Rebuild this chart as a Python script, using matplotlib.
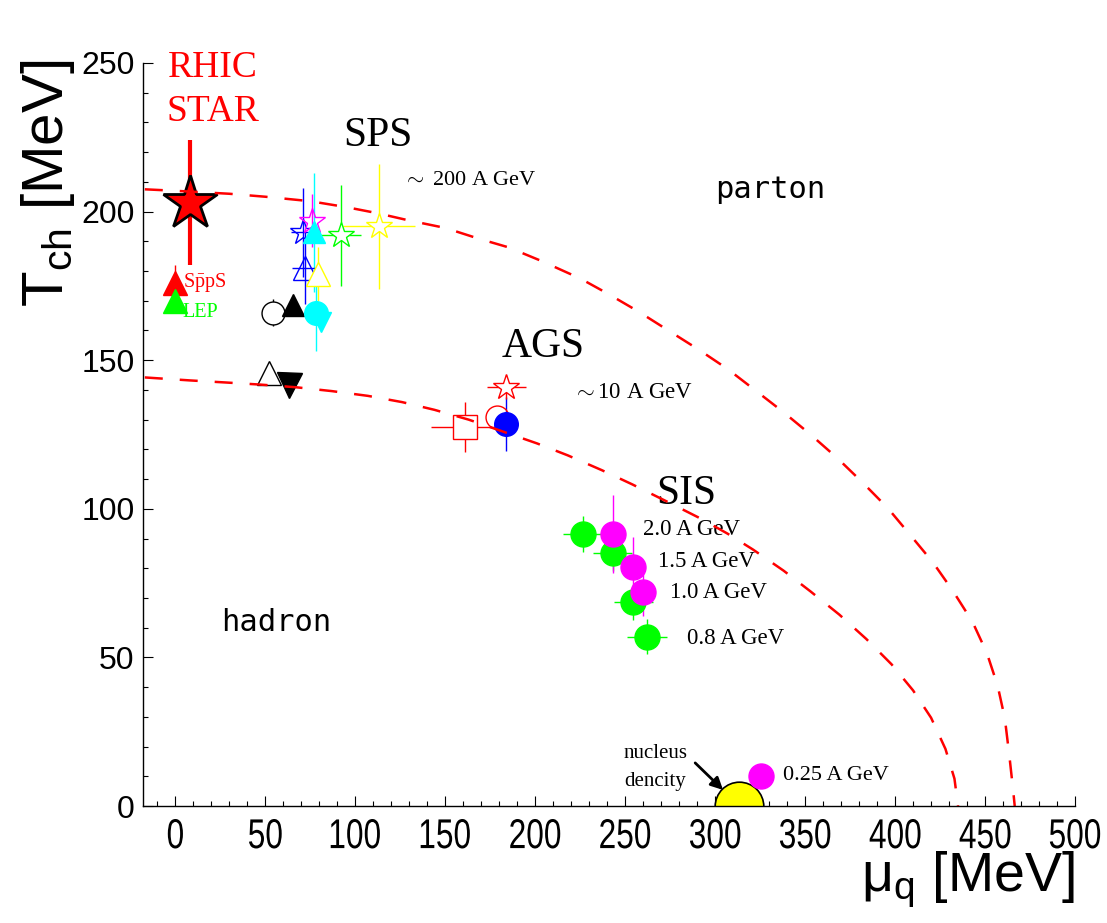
import matplotlib
matplotlib.use("Agg")
import matplotlib.pyplot as plt
from matplotlib.ticker import MultipleLocator
from matplotlib.textpath import TextPath
from matplotlib.patches import PathPatch
from matplotlib.font_manager import FontProperties
import matplotlib.transforms as mtransforms

plt.rcParams['mathtext.fontset'] = 'custom'
plt.rcParams['mathtext.rm'] = 'Liberation Serif'
plt.rcParams['mathtext.sf'] = 'Liberation Sans'
plt.rcParams['mathtext.it'] = 'Liberation Serif:italic'

# ---------------- data ----------------
# dashed boundary curves (mu_q [MeV], T [MeV])
upper_mu = [-17, 0, 30, 50, 75, 95, 112, 130, 150, 168, 185, 203, 225, 240, 257, 274,
            291, 307, 322, 338, 353, 368, 382, 396, 408, 421, 432, 443, 451, 457, 461,
            463.5, 465.5, 466.5]
upper_T = [207.5, 207, 206, 205, 203.5, 201.5, 199.5, 197, 194.5, 191, 188, 183.5, 177.5,
           172.5, 166.5, 160, 153.5, 147, 140, 132.5, 125, 117, 108.8, 100.2, 91.5, 82, 72.5,
           62, 51.5, 40.5, 29.5, 17, 6, 0]
lower_mu = [-17, 8, 28, 47, 67, 87, 107, 126, 144, 163, 182, 201, 218, 237, 254, 273, 292,
            307, 321, 338, 353, 369, 384, 398, 410, 420, 428, 433, 435]
lower_T = [144.2, 143.2, 142.5, 141.8, 140.9, 139.6, 138.0, 135.9, 133.3, 130.0, 126.0,
           122.0, 118.0, 113.0, 108.2, 102.5, 96.7, 91.6, 86.3, 79.2, 72.2, 64.4, 56.2,
           47.7, 38.9, 29.7, 19.2, 9.2, 0]

# RHIC STAR
rhic_mu, rhic_T, rhic_T_err = 8, 203, 21
# SppS and LEP
spps_mu, spps_T, spps_T_err = 0, 176, 6
lep_mu, lep_T = 0, 170

# SPS points
sps_mu = [71, 76, 77, 92, 113, 72, 79.5, 54, 65.5, 78, 81]
sps_T = [193, 197, 193, 192, 195, 181, 179, 166, 168.5, 166, 163]
sps_mu_err = [7, 0, 0, 11, 20, 7, 0, 0, 0, 0, 0]
sps_T_err = [15, 9, 20, 17, 21, 12, 9, 4.5, 0, 13, 0]
# low-T pair near 140 MeV
low_mu = [52, 63]
low_T = [145.7, 141.6]

# AGS points
ags_mu = [161, 179, 184, 184]
ags_T = [127.5, 131, 128.5, 141]
ags_mu_err = [19, 0, 0, 11]
ags_T_err = [8.5, 0, 9, 4]

# SIS points
sis_green_mu = [226.5, 243, 254.6, 262]
sis_green_T = [91.5, 85, 68.6, 57]
sis_green_mu_err = [11, 11, 11, 11]
sis_green_T_err = [6, 6, 6, 6]
sis_mag_mu = [243, 254.4, 260, 325.5]
sis_mag_T = [91.5, 80.4, 72, 10.1]
sis_mag_T_err = [13, 10, 8, 0]
sis_labels = ["2.0 A GeV", "1.5 A GeV", "1.0 A GeV", "0.8 A GeV"]
sis_label_mu = [260, 268.3, 275, 284.4]
sis_label_T = [92.9, 82.1, 71.7, 56.5]

# nucleus density
nuc_mu, nuc_T = 313, 0

x_ticks = [0, 50, 100, 150, 200, 250, 300, 350, 400, 450, 500]
y_ticks = [0, 50, 100, 150, 200, 250]

# ---------------- styles ----------------
sps_style = [  # marker, color, face, size
    ('*', '#0000ff', 'none', 19),
    ('*', '#ff00ff', 'none', 19),
    ('^', '#00ffff', '#00ffff', 16),
    ('*', '#00ff00', 'white', 19),
    ('*', '#ffff00', 'white', 19),
    ('^', '#0000ff', 'none', 17),
    ('^', '#ffff00', 'white', 17),
    ('o', 'black', 'white', 16.5),
    ('^', 'black', 'black', 16),
    ('o', '#00ffff', '#00ffff', 17),
    ('v', '#00ffff', '#00ffff', 15),
]
low_style = [('^', 'black', 'none', 17), ('v', 'black', 'black', 18)]
ags_style = [('s', '#ff0000', 'white', 17), ('o', '#ff0000', 'none', 16.5),
             ('o', '#0000ff', '#0000ff', 17), ('*', '#ff0000', 'white', 19)]

W, H = 1107, 923
fig = plt.figure(figsize=(W / 100, H / 100), dpi=100)
ax = fig.add_axes([143 / W, (H - 806) / H, (1075 - 143) / W, (806 - 63) / H])
ax.set_xlim(-18, 500)
ax.set_ylim(0, 250)

serif = ['Liberation Serif', 'DejaVu Serif']

# curves (drawn on top of points, as in the original)
for mu, T in ((upper_mu, upper_T), (lower_mu, lower_T)):
    ax.plot(mu, T, color='#ff0000', lw=1.8, linestyle=(0, (7.2, 6.8)), zorder=6,
            solid_capstyle='butt', dash_capstyle='butt')


def point(x, y, xe, ye, m, c, fc, ms, z=4, elw=1.0):
    if xe or ye:
        ax.errorbar([x], [y], xerr=[xe] if xe else None, yerr=[ye] if ye else None,
                    fmt='none', ecolor=c, elinewidth=elw, capsize=0, zorder=z - 0.5)
    ax.plot([x], [y], marker=m, ms=ms, mfc=fc, mec=c, mew=1.0, ls='none', zorder=z)


# RHIC
ax.errorbar([rhic_mu], [rhic_T], yerr=[rhic_T_err], fmt='none', ecolor='#ff0000',
            elinewidth=3, capsize=0, zorder=4)
ax.plot([rhic_mu], [rhic_T], marker='*', ms=41, mfc='#ff0000', mec='black', mew=2,
        ls='none', zorder=5)

# SppS / LEP
ax.errorbar([spps_mu], [spps_T], yerr=[spps_T_err], fmt='none', ecolor='#ff0000',
            elinewidth=1, capsize=0, zorder=3)
ax.plot([spps_mu], [spps_T], marker='^', ms=17, color='#ff0000', ls='none', zorder=4)
ax.plot([lep_mu], [lep_T], marker='^', ms=17, color='#00ff00', ls='none', zorder=4)
ax.text(4.4, 176, r'S$\mathrm{\bar{p}}$pS', color='#ff0000', fontsize=14.5,
        family=serif, ha='left', va='center', zorder=7)
ax.text(3.9, 166, 'LEP', color='#00ff00', fontsize=14.5, family=serif,
        ha='left', va='center', zorder=7)

for i in range(len(sps_mu)):
    m, c, fc, ms = sps_style[i]
    point(sps_mu[i], sps_T[i], sps_mu_err[i], sps_T_err[i], m, c, fc, ms, z=4 + i * 0.01)
for i in range(len(low_mu)):
    m, c, fc, ms = low_style[i]
    point(low_mu[i], low_T[i], 0, 0, m, c, fc, ms)
for i in range(len(ags_mu)):
    m, c, fc, ms = ags_style[i]
    point(ags_mu[i], ags_T[i], ags_mu_err[i], ags_T_err[i], m, c, fc, ms, z=4 + i * 0.01)

for i in range(len(sis_green_mu)):
    point(sis_green_mu[i], sis_green_T[i], sis_green_mu_err[i], sis_green_T_err[i],
          'o', '#00ff00', '#00ff00', 18, z=4)
for i in range(len(sis_mag_mu)):
    point(sis_mag_mu[i], sis_mag_T[i], 0, sis_mag_T_err[i],
          'o', '#ff00ff', '#ff00ff', 18, z=4.2)

# nucleus density
ax.plot([nuc_mu], [nuc_T], marker='o', ms=35, mfc='#ffff00', mec='black', mew=1.2,
        ls='none', zorder=3)
ax.annotate('', xy=(304.4, 5.4), xytext=(288.9, 14.5),
            arrowprops=dict(arrowstyle='-|>', color='black', lw=2, mutation_scale=18,
                            shrinkA=0, shrinkB=0), zorder=7)
ax.text(266.7, 17.5, 'nucleus', fontsize=15, family=serif, ha='center', va='center')
ax.text(266.7, 8.2, 'dencity', fontsize=15, family=serif, ha='center', va='center')
ax.text(337.8, 10.4, '0.25 A GeV', fontsize=16, family=serif, ha='left', va='center')

for lab, xm, ym in zip(sis_labels, sis_label_mu, sis_label_T):
    ax.text(xm, ym, lab, fontsize=16.5, family=serif, ha='left', va='center')

# region labels
ax.text(20.6, 248.5, 'RHIC', color='#ff0000', fontsize=27, family=serif,
        ha='center', va='center')
ax.text(21, 233.5, 'STAR', color='#ff0000', fontsize=27, family=serif,
        ha='center', va='center')
ax.text(112.8, 225.4, 'SPS', fontsize=30, family=serif, ha='center', va='center')
ax.text(126.7, 210.6, r'$\sim$ 200 A GeV', fontsize=16, family=serif,
        ha='left', va='center')
ax.text(204.4, 154.4, 'AGS', fontsize=30, family=serif, ha='center', va='center')
ax.text(221, 139.3, r'$\sim$10 A GeV', fontsize=16.5, family=serif,
        ha='left', va='center')
ax.text(284, 105, 'SIS', fontsize=30, family=serif, ha='center', va='center')
ax.text(330.6, 207.3, 'parton', fontsize=22, family='DejaVu Sans Mono',
        ha='center', va='center')
ax.text(56, 61.6, 'hadron', fontsize=22, family='DejaVu Sans Mono',
        ha='center', va='center')

# axes styling
for s in ('top', 'right'):
    ax.spines[s].set_visible(False)
for s in ('left', 'bottom'):
    ax.spines[s].set_linewidth(1.0)
    ax.spines[s].set_zorder(8)
ax.set_xticks(x_ticks)
ax.set_yticks(y_ticks)
ax.xaxis.set_minor_locator(MultipleLocator(10))
ax.yaxis.set_minor_locator(MultipleLocator(10))
ax.tick_params(which='major', direction='in', length=7, width=0.8)
ax.tick_params(which='minor', direction='in', length=3.5, width=0.8)
ax.tick_params(axis='y', labelsize=23, pad=6)
ax.tick_params(axis='x', labelbottom=False)
for lab in ax.get_yticklabels():
    lab.set_family('Liberation Sans')

# condensed x tick labels (drawn as stretched text paths)
fp_sans = FontProperties(family='Liberation Sans')
k = fig.dpi / 72.0
xlab_base = mtransforms.blended_transform_factory(ax.transData, ax.transAxes)
for xv in x_ticks:
    tp = TextPath((0, 0), str(xv), size=30, prop=fp_sans)
    bb = tp.get_extents()
    tr = (mtransforms.Affine2D().translate(-(bb.x0 + bb.x1) / 2, -bb.y1)
          .scale(0.76 * k, k).translate(0, -13)
          + mtransforms.ScaledTranslation(xv, 0, xlab_base))
    fig.add_artist(PathPatch(tp, transform=tr, facecolor='black', edgecolor='none',
                             clip_on=False))

fig.text(48 / W, 1 - 183 / H, r'$\mathsf{T_{ch}}$ [MeV]', rotation=90, fontsize=42,
         family='Liberation Sans', ha='center', va='center')
fig.text(1075 / W, 1 - 880 / H, r'$\mathsf{\mu_q}$ [MeV]', fontsize=40,
         family='Liberation Sans', ha='right', va='center')

fig.savefig('out.png', dpi=100)
